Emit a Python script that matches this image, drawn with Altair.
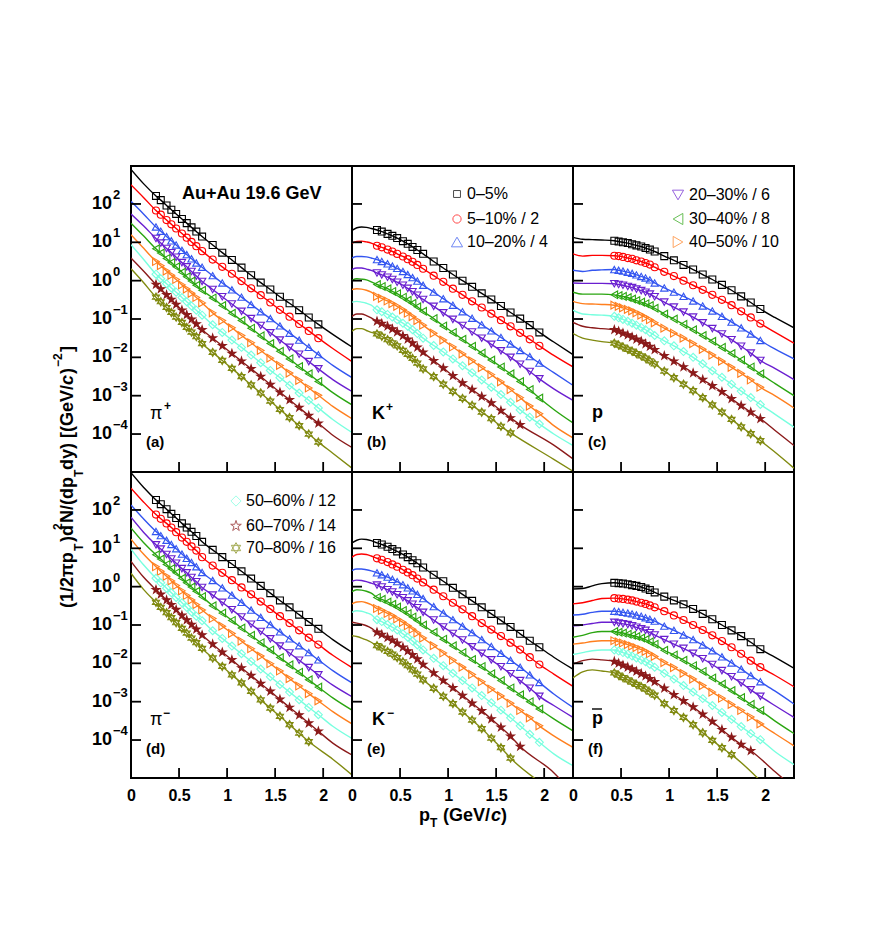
import altair as alt
import pandas as pd

FONT = "Liberation Sans"
centrality = ["0-5%", "5-10%", "10-20%", "20-30%", "30-40%", "40-50%", "50-60%", "60-70%", "70-80%"]
colors = ["#000000", "#ff0000", "#3355f0", "#6a1fd0", "#2aa510", "#ff7f1e", "#78ffdf", "#8b1a1a", "#808a10"]

STAR = "M0,-1L.225,-.309L.951,-.309L.363,.118L.588,.809L0,.382L-.588,.809L-.363,.118L-.951,-.309L-.225,-.309Z"
HEXA = "M0,-1L.866,.5L-.866,.5Z M0,1L.866,-.5L-.866,-.5Z"
shapes = ["square", "circle", "triangle-up", "triangle-down", "triangle-left", "triangle-right", "diamond", STAR, HEXA]
sizes = [48, 68, 125, 125, 125, 125, 105, 125, 115]
fills = ["#ffffff00"] * 7 + ["#8b1a1a", "#ffffff00"]

# pT of the measured points, and of the extra line-only stretches
pt_meson = [.26, .31, .37, .42, .47, .53, .58, .63, .68, .74, .85, .95, 1.05, 1.15, 1.25, 1.35, 1.45, 1.55, 1.65, 1.75, 1.85, 1.95]
pt_proton = [.43, .475, .52, .57, .615, .66, .71, .755, .80, .85, .95, 1.05, 1.15, 1.25, 1.35, 1.45, 1.55, 1.65, 1.75, 1.85, 1.95]
head_pion = [0, .13]
head_kaon = [0, .05, .1, .15, .2]
head_proton = [0, .1, .2, .3]
tail_pt = [2.1, 2.3]

# log10 of the yield, per centrality: line-only head, points, line-only tail
pi_plus = [
    [2.90, 2.53, 2.21, 2.10, 1.96, 1.85, 1.74, 1.61, 1.50, 1.39, 1.28, 1.15, .93, .73, .54, .34, .14, -.05, -.23, -.42, -.59, -.77, -.96, -1.14, -1.40, -1.73],
    [2.50, 2.17, 1.83, 1.72, 1.58, 1.47, 1.36, 1.23, 1.12, 1.01, .90, .77, .55, .36, .18, -.01, -.20, -.38, -.57, -.76, -.94, -1.13, -1.31, -1.50, -1.77, -2.11],
    [2.07, 1.74, 1.40, 1.29, 1.15, 1.04, .93, .79, .68, .57, .46, .35, .13, -.06, -.24, -.43, -.62, -.81, -.99, -1.18, -1.37, -1.55, -1.74, -1.93, -2.21, -2.53],
    [1.74, 1.43, 1.10, .98, .84, .73, .61, .47, .36, .24, .12, -.02, -.23, -.42, -.61, -.80, -.99, -1.17, -1.36, -1.55, -1.74, -1.92, -2.11, -2.30, -2.58, -2.89],
    [1.50, 1.17, .83, .72, .58, .47, .36, .22, .10, -.01, -.12, -.25, -.45, -.65, -.85, -1.04, -1.24, -1.44, -1.64, -1.84, -2.04, -2.24, -2.43, -2.63, -2.92, -3.24],
    [1.20, .85, .50, .39, .25, .14, .03, -.11, -.22, -.33, -.44, -.58, -.84, -1.04, -1.23, -1.43, -1.62, -1.82, -2.02, -2.21, -2.41, -2.60, -2.80, -2.99, -3.28, -3.60],
    [.94, .56, .17, .05, -.08, -.19, -.30, -.44, -.55, -.66, -.77, -.90, -1.15, -1.35, -1.55, -1.74, -1.94, -2.14, -2.34, -2.53, -2.73, -2.93, -3.12, -3.32, -3.62, -3.96],
    [.59, .25, -.10, -.22, -.37, -.49, -.62, -.77, -.89, -1.01, -1.13, -1.28, -1.50, -1.70, -1.90, -2.10, -2.30, -2.50, -2.71, -2.91, -3.11, -3.31, -3.52, -3.72, -4.03, -4.35],
    [.31, -.05, -.43, -.55, -.70, -.83, -.95, -1.09, -1.22, -1.34, -1.46, -1.64, -1.87, -2.08, -2.29, -2.50, -2.72, -2.93, -3.14, -3.36, -3.57, -3.78, -4.00, -4.21, -4.50, -4.89],
]
pi_minus = [
    [2.97, 2.59, 2.26, 2.15, 2.02, 1.90, 1.79, 1.65, 1.54, 1.43, 1.32, 1.17, .96, .77, .59, .40, .21, .02, -.17, -.36, -.54, -.73, -.92, -1.10, -1.38, -1.71],
    [2.57, 2.21, 1.88, 1.77, 1.65, 1.54, 1.42, 1.28, 1.17, 1.05, .94, .77, .55, .36, .17, -.02, -.20, -.39, -.58, -.77, -.95, -1.14, -1.33, -1.51, -1.79, -2.11],
    [2.13, 1.77, 1.44, 1.33, 1.21, 1.10, .99, .85, .74, .63, .52, .37, .16, -.03, -.22, -.41, -.61, -.80, -.99, -1.18, -1.36, -1.54, -1.72, -1.91, -2.19, -2.51],
    [1.81, 1.42, 1.09, .98, .84, .72, .61, .47, .36, .24, .13, -.02, -.22, -.41, -.60, -.79, -.98, -1.17, -1.36, -1.55, -1.73, -1.92, -2.11, -2.30, -2.57, -2.87],
    [1.53, 1.15, .83, .72, .58, .47, .36, .22, .10, -.01, -.12, -.26, -.50, -.69, -.88, -1.08, -1.27, -1.46, -1.65, -1.85, -2.04, -2.23, -2.43, -2.62, -2.90, -3.22],
    [1.24, .85, .52, .40, .27, .15, .03, -.11, -.23, -.35, -.47, -.61, -.83, -1.03, -1.22, -1.42, -1.62, -1.81, -2.01, -2.20, -2.40, -2.59, -2.79, -2.98, -3.26, -3.58],
    [.98, .57, .22, .10, -.04, -.16, -.28, -.42, -.54, -.66, -.77, -.89, -1.15, -1.35, -1.55, -1.75, -1.95, -2.15, -2.35, -2.55, -2.75, -2.95, -3.15, -3.34, -3.64, -3.96],
    [.66, .25, -.08, -.20, -.35, -.47, -.60, -.75, -.87, -.99, -1.11, -1.26, -1.50, -1.71, -1.91, -2.12, -2.32, -2.53, -2.73, -2.94, -3.15, -3.35, -3.56, -3.77, -4.08, -4.39],
    [.35, -.07, -.41, -.54, -.68, -.81, -.94, -1.09, -1.21, -1.34, -1.46, -1.61, -1.86, -2.08, -2.30, -2.51, -2.73, -2.95, -3.17, -3.38, -3.60, -3.82, -4.04, -4.50, -4.91],
]
k_plus = [
    [1.31, 1.38, 1.40, 1.39, 1.36, 1.32, 1.28, 1.22, 1.17, 1.11, 1.03, .96, .88, .80, .70, .50, .33, .16, 0, -.16, -.33, -.49, -.66, -.83, -.99, -1.16, -1.35, -1.60, -1.93],
    [.98, 1.02, 1.03, 1.01, .98, .91, .87, .81, .76, .70, .63, .56, .49, .41, .31, .13, -.03, -.21, -.37, -.54, -.70, -.86, -1.03, -1.19, -1.36, -1.53, -1.70, -1.95, -2.25],
    [.59, .63, .63, .62, .59, .55, .50, .44, .38, .32, .24, .16, .08, -.01, -.12, -.30, -.47, -.64, -.81, -.98, -1.15, -1.31, -1.48, -1.65, -1.82, -1.98, -2.15, -2.40, -2.73],
    [.29, .33, .33, .30, .27, .20, .15, .09, .03, -.04, -.12, -.20, -.29, -.38, -.49, -.67, -.84, -1.01, -1.17, -1.34, -1.50, -1.66, -1.83, -2.00, -2.18, -2.37, -2.56, -2.82, -3.12],
    [.01, .05, .04, .02, -.03, -.10, -.15, -.21, -.28, -.34, -.43, -.51, -.59, -.68, -.80, -.99, -1.18, -1.35, -1.53, -1.71, -1.89, -2.07, -2.25, -2.43, -2.63, -2.84, -3.06, -3.36, -3.71],
    [-.23, -.21, -.22, -.25, -.30, -.41, -.46, -.53, -.60, -.67, -.76, -.85, -.94, -1.04, -1.16, -1.37, -1.55, -1.73, -1.91, -2.09, -2.27, -2.45, -2.64, -2.84, -3.05, -3.27, -3.47, -3.78, -4.10],
    [-.56, -.54, -.56, -.59, -.64, -.76, -.81, -.88, -.95, -1.02, -1.11, -1.19, -1.28, -1.38, -1.50, -1.69, -1.86, -2.04, -2.22, -2.40, -2.59, -2.78, -2.97, -3.17, -3.37, -3.56, -3.74, -4.00, -4.30],
    [-.93, -.87, -.87, -.91, -.97, -1.06, -1.12, -1.19, -1.26, -1.34, -1.44, -1.53, -1.63, -1.74, -1.87, -2.09, -2.28, -2.48, -2.67, -2.84, -3.02, -3.19, -3.39, -3.58, -3.76, -4.29, -4.65],
    [-1.32, -1.25, -1.25, -1.30, -1.35, -1.39, -1.45, -1.54, -1.62, -1.70, -1.82, -1.92, -2.03, -2.15, -2.30, -2.50, -2.70, -2.89, -3.07, -3.25, -3.43, -3.60, -3.80, -3.97, -4.66, -4.97],
]
k_minus = [
    [1.14, 1.21, 1.24, 1.23, 1.20, 1.14, 1.10, 1.04, .98, .92, .84, .77, .69, .61, .50, .31, .14, -.03, -.20, -.37, -.54, -.71, -.88, -1.05, -1.23, -1.41, -1.58, -1.84, -2.15],
    [.77, .84, .85, .84, .80, .74, .70, .64, .58, .52, .44, .37, .30, .21, .11, -.08, -.25, -.42, -.59, -.77, -.95, -1.12, -1.29, -1.46, -1.64, -1.84, -2.03, -2.28, -2.60],
    [.42, .46, .46, .44, .41, .36, .31, .25, .19, .13, .05, -.03, -.11, -.20, -.31, -.52, -.69, -.86, -1.03, -1.20, -1.38, -1.56, -1.74, -1.92, -2.10, -2.30, -2.50, -2.80, -3.15],
    [.14, .17, .16, .13, .09, .04, -.01, -.08, -.14, -.21, -.29, -.37, -.46, -.55, -.67, -.87, -1.05, -1.22, -1.39, -1.57, -1.74, -1.91, -2.09, -2.27, -2.45, -2.65, -2.86, -3.10, -3.41],
    [-.13, -.08, -.09, -.12, -.17, -.28, -.33, -.40, -.46, -.53, -.62, -.70, -.79, -.88, -1.00, -1.19, -1.37, -1.54, -1.72, -1.90, -2.08, -2.27, -2.45, -2.64, -2.82, -3.00, -3.19, -3.45, -3.76],
    [-.45, -.40, -.39, -.42, -.47, -.57, -.62, -.70, -.76, -.84, -.93, -1.02, -1.11, -1.21, -1.34, -1.54, -1.73, -1.92, -2.10, -2.29, -2.48, -2.67, -2.85, -3.04, -3.23, -3.42, -3.63, -3.89, -4.19],
    [-.67, -.63, -.64, -.68, -.73, -.86, -.91, -.99, -1.06, -1.13, -1.23, -1.32, -1.42, -1.52, -1.65, -1.87, -2.06, -2.26, -2.45, -2.64, -2.84, -3.03, -3.22, -3.42, -3.63, -3.85, -4.06, -4.36, -4.67],
    [-.93, -.95, -.98, -1.02, -1.08, -1.19, -1.25, -1.33, -1.40, -1.48, -1.58, -1.68, -1.78, -1.89, -2.03, -2.25, -2.45, -2.64, -2.84, -3.04, -3.24, -3.45, -3.67, -3.90, -4.17, -4.85, -5.40],
    [-1.28, -1.30, -1.34, -1.39, -1.45, -1.54, -1.60, -1.69, -1.76, -1.85, -1.96, -2.06, -2.17, -2.28, -2.43, -2.65, -2.86, -3.05, -3.27, -3.48, -3.70, -3.95, -4.20, -4.47, -5.40, -5.90],
]
proton = [
    [1.13, 1.08, 1.07, 1.06, 1.04, 1.02, 1.00, .98, .95, .92, .89, .85, .81, .76, .64, .53, .41, .29, .16, .03, -.11, -.25, -.41, -.57, -.74, -.96, -1.23],
    [.70, .64, .66, .66, .65, .64, .62, .59, .57, .53, .50, .46, .42, .35, .23, .12, 0, -.12, -.24, -.37, -.50, -.64, -.80, -.96, -1.12, -1.34, -1.63],
    [.27, .24, .27, .28, .29, .27, .25, .22, .19, .15, .11, .07, .02, -.06, -.19, -.30, -.41, -.53, -.66, -.79, -.93, -1.08, -1.23, -1.39, -1.56, -1.78, -2.04],
    [-.06, -.07, -.07, -.07, -.08, -.10, -.12, -.15, -.18, -.22, -.26, -.30, -.35, -.42, -.56, -.69, -.82, -.95, -1.10, -1.25, -1.39, -1.54, -1.71, -1.89, -2.08, -2.29, -2.58],
    [-.30, -.35, -.35, -.35, -.37, -.39, -.41, -.44, -.48, -.52, -.56, -.60, -.65, -.72, -.87, -1.00, -1.14, -1.28, -1.43, -1.58, -1.74, -1.90, -2.07, -2.25, -2.43, -2.68, -3.00],
    [-.54, -.60, -.61, -.62, -.64, -.67, -.71, -.75, -.79, -.84, -.90, -.96, -1.02, -1.10, -1.24, -1.37, -1.50, -1.64, -1.79, -1.94, -2.10, -2.26, -2.42, -2.59, -2.78, -3.00, -3.32],
    [-.77, -.87, -.89, -.90, -.93, -.97, -1.01, -1.06, -1.11, -1.16, -1.22, -1.28, -1.35, -1.43, -1.57, -1.70, -1.85, -2.00, -2.17, -2.35, -2.52, -2.70, -2.88, -3.05, -3.23, -3.48, -3.82],
    [-1.09, -1.19, -1.23, -1.25, -1.28, -1.32, -1.37, -1.42, -1.47, -1.53, -1.58, -1.65, -1.72, -1.80, -1.96, -2.10, -2.25, -2.41, -2.58, -2.74, -2.90, -3.08, -3.26, -3.43, -3.60, -3.90, -4.30],
    [-1.38, -1.50, -1.55, -1.59, -1.63, -1.68, -1.73, -1.79, -1.84, -1.90, -1.96, -2.02, -2.09, -2.17, -2.36, -2.53, -2.70, -2.87, -3.05, -3.24, -3.43, -3.62, -3.81, -3.99, -4.17, -4.47, -4.89],
]
antiproton = [
    [-.06, -.05, .02, .08, .10, .09, .08, .06, .04, .02, -.01, -.05, -.09, -.15, -.26, -.36, -.46, -.58, -.71, -.85, -1.00, -1.14, -1.29, -1.45, -1.63, -1.84, -2.13],
    [-.45, -.42, -.36, -.31, -.30, -.31, -.32, -.34, -.36, -.39, -.42, -.45, -.49, -.54, -.64, -.75, -.87, -1.00, -1.13, -1.27, -1.42, -1.58, -1.75, -1.93, -2.10, -2.31, -2.61],
    [-.74, -.72, -.67, -.64, -.64, -.65, -.67, -.69, -.71, -.74, -.77, -.81, -.85, -.90, -1.03, -1.14, -1.26, -1.38, -1.52, -1.67, -1.83, -1.99, -2.15, -2.32, -2.48, -2.72, -3.06],
    [-1.02, -1.00, -.96, -.93, -.93, -.95, -.97, -.99, -1.02, -1.06, -1.10, -1.14, -1.20, -1.26, -1.38, -1.50, -1.61, -1.74, -1.88, -2.03, -2.19, -2.35, -2.51, -2.69, -2.86, -3.10, -3.41],
    [-1.32, -1.27, -1.20, -1.17, -1.17, -1.19, -1.21, -1.24, -1.27, -1.30, -1.34, -1.38, -1.44, -1.50, -1.66, -1.78, -1.92, -2.06, -2.21, -2.38, -2.54, -2.71, -2.89, -3.07, -3.23, -3.50, -3.83],
    [-1.50, -1.47, -1.43, -1.41, -1.41, -1.44, -1.47, -1.51, -1.55, -1.59, -1.64, -1.69, -1.75, -1.82, -1.98, -2.11, -2.26, -2.41, -2.58, -2.75, -2.91, -3.07, -3.23, -3.40, -3.58, -3.83, -4.15],
    [-1.77, -1.72, -1.67, -1.65, -1.65, -1.68, -1.72, -1.76, -1.81, -1.86, -1.91, -1.96, -2.03, -2.10, -2.26, -2.41, -2.58, -2.75, -2.92, -3.10, -3.28, -3.46, -3.65, -3.83, -3.99, -4.30, -4.64],
    [-2.02, -1.93, -1.89, -1.91, -1.95, -2.00, -2.05, -2.10, -2.15, -2.21, -2.27, -2.33, -2.40, -2.48, -2.65, -2.82, -2.98, -3.14, -3.33, -3.52, -3.73, -3.93, -4.12, -4.28, -4.82, -5.25],
    [-2.38, -2.22, -2.17, -2.20, -2.25, -2.31, -2.37, -2.43, -2.49, -2.55, -2.61, -2.67, -2.75, -2.83, -3.05, -3.23, -3.41, -3.60, -3.81, -4.01, -4.20, -4.38, -5.45, -6.00],
]

y_ticks = [2, 1, 0, -1, -2, -3, -4]
x_ticks = [0, .5, 1, 1.5, 2]
W, H = 221, 306

x_scale = alt.Scale(domain=[0, 2.3], nice=False, zero=False)
y_scale = alt.Scale(type="log", domain=[10 ** -4.99, 10 ** 2.99], nice=False)
col = alt.Color("cent:N", scale=alt.Scale(domain=centrality, range=colors), legend=None)


def note(text, x, y, size=16, weight="bold", style="normal", angle=0, align="left"):
    return alt.Chart(pd.DataFrame({"t": [text]})).mark_text(
        font=FONT, fontSize=size, fontWeight=weight, fontStyle=style, angle=angle, align=align, baseline="middle", color="black"
    ).encode(x=alt.value(x), y=alt.value(y), text="t:N")


def legend_rows(names, sym_x, text_x, ys):
    out = []
    for (name, label), y in zip(names, ys):
        i = centrality.index(name)
        out.append(alt.Chart(pd.DataFrame({"t": [label]})).mark_point(
            filled=False, size=sizes[i], shape=shapes[i], color=colors[i], strokeWidth=1
        ).encode(x=alt.value(sym_x), y=alt.value(y)))
        out.append(note(label, text_x, y, size=16, weight="normal"))
    return out


def panel(rows, head_pt, grid, tags, bottom=False, left=False, extras=()):
    nh = len(head_pt)
    lines, points = [], []
    for cent, row in zip(centrality, rows):
        pts = row[nh:-2]
        line_pt = head_pt + grid[:len(pts)] + tail_pt
        lines += [{"cent": cent, "pt": p, "y": 10 ** v} for p, v in zip(line_pt, row)]
        points += [{"cent": cent, "pt": p, "y": 10 ** v} for p, v in zip(grid, pts)]
    axis = alt.Axis(values=x_ticks, ticks=False, domain=False, grid=False, title=None, labelExpr="'' + datum.value",
                    labelFont=FONT, labelFontWeight="bold", labelFontSize=16, labelColor="black", labelPadding=9,
                    labelOverlap=False, labelFlush=False) if bottom else None
    x = alt.X("pt:Q", scale=x_scale, axis=axis)
    y = alt.Y("y:Q", scale=y_scale, axis=None)
    layers = [
        alt.Chart(pd.DataFrame(lines)).mark_line(clip=True, strokeWidth=1.4, interpolate="monotone").encode(x=x, y=y, color=col),
        alt.Chart(pd.DataFrame(points)).mark_point(clip=True, strokeWidth=1.1, opacity=1).encode(
            x=x, y=y,
            stroke=alt.Stroke("cent:N", scale=alt.Scale(domain=centrality, range=colors), legend=None),
            fill=alt.Fill("cent:N", scale=alt.Scale(domain=centrality, range=fills), legend=None),
            shape=alt.Shape("cent:N", scale=alt.Scale(domain=centrality, range=shapes), legend=None),
            size=alt.Size("cent:N", scale=alt.Scale(domain=centrality, range=sizes), legend=None),
        ),
        alt.Chart(pd.DataFrame({"y": [10.0 ** e for e in y_ticks]})).mark_rule(strokeWidth=1.8, color="black").encode(
            y=y, x=alt.value(0), x2=alt.value(10)),
        alt.Chart(pd.DataFrame({"pt": x_ticks[1:]})).mark_rule(strokeWidth=1.8, color="black").encode(
            x=x, y=alt.value(H), y2=alt.value(H - 10)),
    ]
    if left:
        labels = pd.DataFrame({"y": [10.0 ** e for e in y_ticks], "base": "10",
                               "exp": [str(e).replace("-", "\u2212") for e in y_ticks]})
        layers.append(alt.Chart(labels).mark_text(font=FONT, fontSize=18, fontWeight="bold", align="right", baseline="middle", color="black")
                      .encode(y=y, x=alt.value(-19), text="base:N"))
        layers.append(alt.Chart(labels).mark_text(font=FONT, fontSize=13, fontWeight="bold", align="left", baseline="middle", dy=-9, color="black")
                      .encode(y=y, x=alt.value(-18), text="exp:N"))
    layers += tags
    layers += list(extras)
    return alt.layer(*layers).properties(width=W, height=H)


# y title runs up the left side, straddling both rows; positions are relative to panel (a)
y_title = [
    note("(1/2\u03c0p", -63, 442, 18, angle=270),
    note("T", -52, 385, 12, angle=270),
    note(")d", -63, 376, 18, angle=270),
    note("2", -73, 364, 12, angle=270),
    note("N/(dp", -63, 357, 18, angle=270),
    note("T", -52, 311, 12, angle=270),
    note("dy) [(GeV/", -63, 304, 18, angle=270),
    note("c", -63, 219, 18, style="italic", angle=270),
    note(")", -63, 208, 18, angle=270),
    note("\u22122", -73, 201, 12, angle=270),
    note("]", -63, 186, 18, angle=270),
]
x_title = [
    note("p", 67, 344, 18),
    note("T", 78, 351, 12),
    note("(GeV/", 91, 344, 18),
    note("c", 139, 344, 18, style="italic"),
    note(")", 149, 344, 18),
]

a = panel(pi_plus, head_pion, pt_meson, [
    note("\u03c0", 19, 248, 18, weight="normal"), note("+", 33, 240, 12), note("(a)", 15, 276, 15),
    note("Au+Au 19.6 GeV", 51, 28, 18),
], left=True, extras=y_title)
b = panel(k_plus, head_kaon, pt_meson, [
    note("K", 20, 248, 18), note("+", 34, 241, 12), note("(b)", 15, 276, 15),
], extras=legend_rows([("0-5%", "0\u20135%"), ("5-10%", "5\u201310% / 2"), ("10-20%", "10\u201320% / 4")], 105, 115, [28, 53, 76]))
c = panel(proton, head_proton, pt_proton, [
    note("p", 19, 247, 18), note("(c)", 15, 276, 15),
], extras=legend_rows([("20-30%", "20\u201330% / 6"), ("30-40%", "30\u201340% / 8"), ("40-50%", "40\u201350% / 10")], 105, 116, [29, 53, 76]))
d = panel(pi_minus, head_pion, pt_meson, [
    note("\u03c0", 19, 248, 18, weight="normal"), note("\u2212", 32, 241, 12), note("(d)", 15, 277, 15),
], bottom=True, left=True, extras=legend_rows([("50-60%", "50\u201360% / 12"), ("60-70%", "60\u201370% / 14"), ("70-80%", "70\u201380% / 16")], 105, 115, [29, 54, 76]))
e = panel(k_minus, head_kaon, pt_meson, [
    note("K", 20, 248, 18), note("\u2212", 35, 241, 12), note("(e)", 15, 277, 15),
], bottom=True, extras=x_title)
f = panel(antiproton, head_proton, pt_proton, [
    note("p", 19, 247, 18), note("(f)", 15, 277, 15),
    alt.Chart(pd.DataFrame({"t": [0]})).mark_rule(strokeWidth=1.4, color="black").encode(x=alt.value(19), x2=alt.value(29), y=alt.value(237)),
], bottom=True)

chart = alt.concat(a, b, c, d, e, f, columns=3, spacing=0, bounds="flush").properties(
    padding={"left": 43, "top": 157, "right": 5, "bottom": 5}, background="white"
).configure_view(stroke="black", strokeWidth=2)

chart.save("out.html", embed_options={"renderer": "svg", "actions": False})
